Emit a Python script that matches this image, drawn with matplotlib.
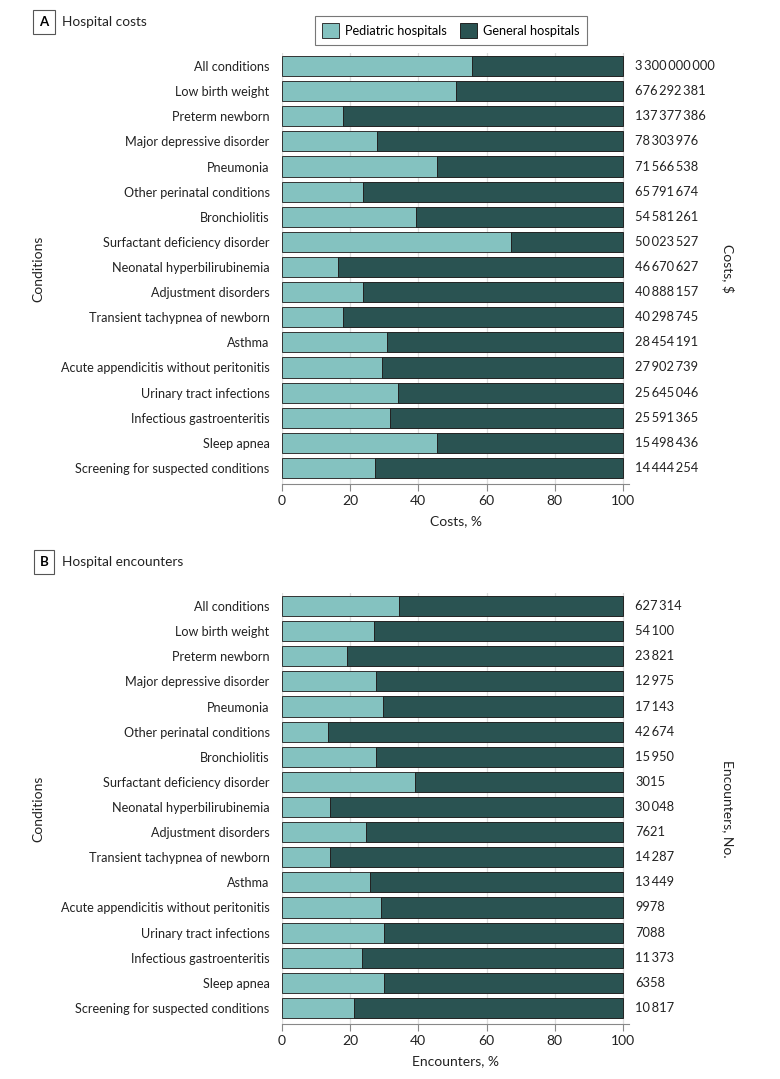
import numpy as np
import matplotlib.pyplot as plt
from matplotlib.patches import Patch

plt.rcParams['font.family'] = ['Lato', 'DejaVu Sans']

conditions = ["All conditions", "Low birth weight", "Preterm newborn", "Major depressive disorder",
              "Pneumonia", "Other perinatal conditions", "Bronchiolitis", "Surfactant deficiency disorder",
              "Neonatal hyperbilirubinemia", "Adjustment disorders", "Transient tachypnea of newborn",
              "Asthma", "Acute appendicitis without peritonitis", "Urinary tract infections",
              "Infectious gastroenteritis", "Sleep apnea", "Screening for suspected conditions"]

# share of pediatric hospitals, %
cost_ped = [55.6, 50.9, 17.9, 27.9, 45.4, 23.9, 39.3, 67.3, 16.3, 23.8, 17.9, 30.9, 29.4, 34.0, 31.7, 45.5, 27.3]
enc_ped = [34.3, 27.0, 19.1, 27.6, 29.6, 13.6, 27.6, 39.0, 14.1, 24.7, 14.1, 25.9, 28.9, 29.9, 23.5, 29.9, 21.2]

costs = [3300000000, 676292381, 137377386, 78303976, 71566538, 65791674, 54581261, 50023527,
         46670627, 40888157, 40298745, 28454191, 27902739, 25645046, 25591365, 15498436, 14444254]
encounters = [627314, 54100, 23821, 12975, 17143, 42674, 15950, 3015, 30048, 7621, 14287,
              13449, 9978, 7088, 11373, 6358, 10817]

PED = '#84C2C0'
GEN = '#2A5352'
W, H = 780, 1079


def fmt(n):
    s = str(n)
    if len(s) <= 4:
        return s
    groups = []
    while s:
        groups.insert(0, s[-3:])
        s = s[:-3]
    return '\u2009'.join(groups)


fig = plt.figure(figsize=(W / 100, H / 100), dpi=100)


def panel(top_px, bot_px, ped, totals, xlabel, rlabel, letter, title):
    ax = fig.add_axes([282 / W, 1 - bot_px / H, 347 / W, (bot_px - top_px) / H])
    y = np.arange(len(conditions))
    ped = np.array(ped)
    ax.barh(y, ped, height=0.8, color=PED, edgecolor='#333333', linewidth=0.7, zorder=2)
    ax.barh(y, 100 - ped, left=ped, height=0.8, color=GEN, edgecolor='#222222', linewidth=0.7, zorder=2)
    ax.set_xlim(0, 101.8)
    ax.set_ylim(16.64, -0.52)
    ax.set_yticks(y)
    ax.set_yticklabels(conditions, fontsize=9.1, color='#222222')
    ax.tick_params(axis='y', length=0, pad=9)
    ax.set_xticks([0, 20, 40, 60, 80, 100])
    ax.tick_params(axis='x', length=5, color='#888888', labelsize=10, labelcolor='#222222', pad=3)
    ax.grid(axis='x', color='#dddddd', linewidth=0.9, zorder=0)
    for s in ['top', 'right', 'left']:
        ax.spines[s].set_visible(False)
    ax.spines['bottom'].set_color('#888888')
    ax.set_xlabel(xlabel, fontsize=10, color='#222222', labelpad=6)
    for i, v in enumerate(totals):
        ax.text(103.6, i, fmt(v), va='center', ha='left', fontsize=9.3, color='#222222', clip_on=False)
    mid = 1 - (top_px + bot_px) / 2 / H
    fig.text(38 / W, mid, 'Conditions', rotation=90, va='center', ha='center', fontsize=10, color='#222222')
    fig.text(728 / W, mid, rlabel, rotation=270, va='center', ha='center', fontsize=10, color='#222222')
    ty = 1 - (top_px - 31) / H
    fig.text(44 / W, ty, letter, fontsize=9.5, fontweight='bold', va='center', ha='center',
             bbox=dict(boxstyle='square,pad=0.45', fc='white', ec='#555555', lw=0.8))
    fig.text(62 / W, ty, title, fontsize=9.8, va='center', ha='left', color='#222222')
    return ax


panel(53, 484, cost_ped, costs, 'Costs, %', 'Costs, $', 'A', 'Hospital costs')
panel(593, 1024, enc_ped, encounters, 'Encounters, %', 'Encounters, No.', 'B', 'Hospital encounters')

handles = [Patch(facecolor=PED, edgecolor='#333333', linewidth=0.7),
           Patch(facecolor=GEN, edgecolor='#222222', linewidth=0.7)]
leg = fig.legend(handles, ['Pediatric hospitals', 'General hospitals'], loc='center',
                 bbox_to_anchor=(451 / W, 1 - 30.5 / H), ncol=2, fontsize=9.2, frameon=True,
                 fancybox=False, edgecolor='#555555', handlelength=1.3, handleheight=1.5,
                 handletextpad=0.5, columnspacing=1.0, borderpad=0.55)
leg.get_frame().set_linewidth(0.8)

fig.savefig('out.png', dpi=100)
